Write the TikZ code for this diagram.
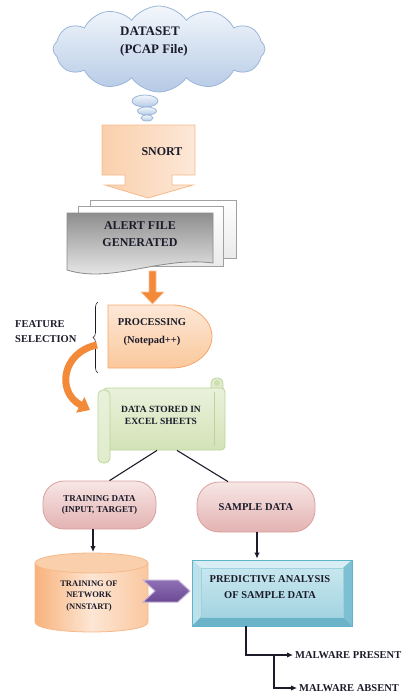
\documentclass[tikz,border=0pt]{standalone}
\usepackage{fontspec}
\setmainfont{Liberation Serif}
\usetikzlibrary{shapes.symbols,shapes.geometric,decorations.pathreplacing,arrows.meta,calc}
\definecolor{ink}{HTML}{1B1B2A}
\definecolor{cloudtop}{HTML}{F3F7FC}
\definecolor{cloudbot}{HTML}{B5CAE5}
\definecolor{cloudline}{HTML}{9AB5D9}
\definecolor{peachA}{HTML}{FAD0AC}
\definecolor{peachB}{HTML}{FDE8D8}
\definecolor{peachline}{HTML}{F7B98A}
\definecolor{grayA}{HTML}{8E8E8E}
\definecolor{grayB}{HTML}{F4F4F4}
\definecolor{grayline}{HTML}{8A8A8A}
\definecolor{orangeA}{HTML}{F28A3A}
\definecolor{orangeL}{HTML}{FAC29A}
\definecolor{procline}{HTML}{F5A66B}
\definecolor{greenA}{HTML}{EAF1DC}
\definecolor{greenB}{HTML}{D3E3B6}
\definecolor{greenline}{HTML}{BCD49A}
\definecolor{pinkA}{HTML}{F7E6E5}
\definecolor{pinkB}{HTML}{E3B3B2}
\definecolor{pinkline}{HTML}{D9A09E}
\definecolor{cylA}{HTML}{F8B27C}
\definecolor{cylB}{HTML}{FDE6D4}
\definecolor{purpA}{HTML}{8F70B5}
\definecolor{purpB}{HTML}{6B4A93}
\definecolor{purpline}{HTML}{C3B3D6}
\definecolor{blueA}{HTML}{C8E7EF}
\definecolor{blueB}{HTML}{A3D4E1}
\definecolor{blueline}{HTML}{5FB3CB}
\definecolor{bevTop}{HTML}{D7EEF4}
\definecolor{bevLeft}{HTML}{BDE1EA}
\definecolor{bevRight}{HTML}{7EC0D3}
\definecolor{bevBot}{HTML}{6AB3C9}
\begin{document}
\begin{tikzpicture}[x=1pt,y=-1pt,
  lbl/.style={inner sep=0pt, align=center, text=ink},
  conn/.style={draw=ink, line width=1.1pt},
  arr/.style={conn, -{Latex[length=6pt,width=5.5pt]}},
  shapeline/.style={line width=0.8pt},
]
\useasboundingbox (0,0) rectangle (406,696);

% ---- cloud ----
\node[cloud, cloud puffs=12, cloud puff arc=110, cloud ignores aspect,
      minimum width=212pt, minimum height=86pt, inner sep=0pt,
      top color=cloudtop, bottom color=cloudbot, draw=cloudline, shapeline] (cloud) at (159,49) {};
\path[top color=cloudtop, bottom color=cloudbot, draw=cloudline, shapeline] (145,101) ellipse (13 and 6);
\path[top color=cloudtop, bottom color=cloudbot, draw=cloudline, shapeline] (147,111) ellipse (9.5 and 4);
\path[top color=cloudtop, bottom color=cloudbot, draw=cloudline, shapeline] (147,118) ellipse (6 and 3);
\node[lbl, align=left, anchor=west, font=\bfseries\fontsize{13}{18}\selectfont] (dataset) at (120,42) {DATASET\\(PCAP File)};

% ---- SNORT down-arrow callout ----
\path[left color=peachA, right color=peachB, draw=peachline, shapeline]
  (102,125) -- (195,125) -- (195,175) -- (172,175) -- (172,185) -- (193,185) -- (148,198)
  -- (105,185) -- (125,185) -- (125,175) -- (102,175) -- cycle;
\node[lbl, font=\bfseries\fontsize{12}{14}\selectfont] (snort) at (162,152) {SNORT};

% ---- alert file (multi document) ----
\path[top color=white, bottom color=white!92!black, draw=grayline!80, shapeline] (90,200) rectangle (236,258);
\path[top color=white, bottom color=white!92!black, draw=grayline!80, shapeline] (78,206) rectangle (223,266);
\path[top color=grayA, bottom color=grayB, draw=grayline, shapeline]
  (67,213) -- (213,213) -- (213,263) .. controls (160,256) and (112,284) .. (67,270) -- cycle;
\node[lbl, font=\bfseries\fontsize{12}{17}\selectfont] (alert) at (140,234) {ALERT FILE\\GENERATED};

% ---- small orange arrow ----
\path[fill=orangeA, draw=orangeL, line width=0.6pt]
  (149,271) -- (156,271) -- (156,292) -- (164,292) -- (152.5,304) -- (141,292) -- (149,292) -- cycle;

% ---- processing (delay shape) ----
\path[top color=peachB, bottom color=peachA!90!orange, draw=procline, shapeline]
  (108,305) -- (172,305) .. controls (194,305) and (212,319) .. (212,336.5)
  .. controls (212,354) and (194,368) .. (172,368) -- (108,368) -- cycle;
\node[lbl, font=\bfseries\fontsize{10.5}{18}\selectfont] (proc) at (152,332) {PROCESSING\\(Notepad++)};

% ---- brace and feature selection ----
\coordinate (braceB) at (98,373);
\coordinate (braceT) at (98,302);
\draw[ink, line width=0.6pt, decorate, decoration={brace, amplitude=5pt}] (braceB) -- (braceT);
\node[lbl, align=left, anchor=west, font=\bfseries\fontsize{10.5}{15}\selectfont] (feat) at (15,332) {FEATURE\\SELECTION};

% ---- curved orange arrow ----
\coordinate (cA) at (97,345);
\coordinate (cB) at (90,410);
\draw[orangeA, line width=7pt, -{Triangle[width=17pt,length=11pt]}]
  (cA) .. controls (62,352) and (56,392) .. (cB);

% ---- green scroll ----
\path[top color=greenA!70!greenB, bottom color=greenB, draw=greenline, shapeline, rounded corners=5pt]
  (211,378) rectangle (223,430);
\node[minimum width=122pt, minimum height=62pt, inner sep=0pt, rounded corners=4pt,
      top color=greenA, bottom color=greenB, draw=greenline, shapeline] (excel) at (164,419) {};
\path[top color=greenA, bottom color=greenB!70!white, draw=greenline, shapeline, rounded corners=5pt]
  (98,390) rectangle (110,463);
\draw[greenline, line width=0.6pt] (214,392) -- (214,446);
\fill[greenB!80!greenline] (217,383) circle (3);
\node[lbl, font=\bfseries\fontsize{9.5}{12}\selectfont] (exceltxt) at (161,415) {DATA STORED IN\\EXCEL SHEETS};

% ---- training / sample data ----
\node[lbl, minimum width=113pt, minimum height=48pt, rounded corners=21pt,
      top color=pinkA, bottom color=pinkB, draw=pinkline, shapeline,
      font=\bfseries\fontsize{9}{11.5}\selectfont] (train) at (99.5,505) {TRAINING DATA\\(INPUT, TARGET)};
\node[lbl, minimum width=118pt, minimum height=50pt, rounded corners=22pt,
      top color=pinkA, bottom color=pinkB, draw=pinkline, shapeline,
      font=\bfseries\fontsize{10.5}{12}\selectfont] (sample) at (256,507) {SAMPLE DATA};

\draw[conn] ($(excel.south)+(-7,0)$) -- ($(train.north)+(10,0)$);
\draw[conn] ($(excel.south)+(13,0)$) -- ($(sample.north)+(-28,0)$);

% ---- cylinder ----
\path[left color=cylA, right color=cylA!60!cylB, middle color=cylB, draw=peachline, shapeline]
  (35,563) -- (35,622) .. controls (35,635.3) and (148,635.3) .. (148,622) -- (148,563) -- cycle;
\path[fill=peachA, draw=peachline, shapeline] (91.5,563) ellipse (56.5 and 10);
\node[lbl, font=\bfseries\fontsize{8.5}{11.5}\selectfont] (cyl) at (89,596) {TRAINING OF\\NETWORK\\(NNSTART)};
\coordinate (cyltop) at (93,552);
\draw[arr] ($(train.south)+(-6.5,0)$) -- (cyltop);

% ---- chevron ----
\path[top color=purpA, bottom color=purpB, draw=purpline, line width=1pt]
  (143,580) -- (178,580) -- (190,591) -- (178,602) -- (143,602) -- (155,591) -- cycle;

% ---- predictive analysis (bevel) ----
\node[minimum width=160pt, minimum height=66pt, inner sep=0pt, fill=blueB, draw=blueline, shapeline] (pred) at (272,593) {};
\fill[bevTop] (192,560) -- (352,560) -- (343,568) -- (201,568) -- cycle;
\fill[bevLeft] (192,560) -- (201,568) -- (201,617) -- (192,626) -- cycle;
\fill[bevRight] (352,560) -- (352,626) -- (343,617) -- (343,568) -- cycle;
\fill[bevBot] (192,626) -- (201,617) -- (343,617) -- (352,626) -- cycle;
\path[top color=blueA, bottom color=blueB, draw=blueline!60, line width=0.4pt] (201,568) rectangle (343,617);
\draw[blueline, shapeline] (192,560) rectangle (352,626);
\node[lbl, font=\bfseries\fontsize{10.5}{16}\selectfont] (predtxt) at (270,587) {PREDICTIVE ANALYSIS\\OF SAMPLE DATA};
\draw[arr] ($(sample.south)+(1,0)$) -- ($(pred.north)+(-15,-1)$);

% ---- outcomes ----
\node[lbl, anchor=west, inner sep=2pt, font=\bfseries\fontsize{10.5}{12}\selectfont] (mp) at (293,655) {MALWARE PRESENT};
\node[lbl, anchor=west, inner sep=2pt, font=\bfseries\fontsize{10.5}{12}\selectfont] (ma) at (297,688) {MALWARE ABSENT};
\coordinate (p0) at ($(pred.south)+(-26,0)$);
\coordinate (br) at (274,655);
\draw[arr] (p0) |- (mp.west);
\draw[arr] (br) |- (ma.west);
\end{tikzpicture}
\end{document}
